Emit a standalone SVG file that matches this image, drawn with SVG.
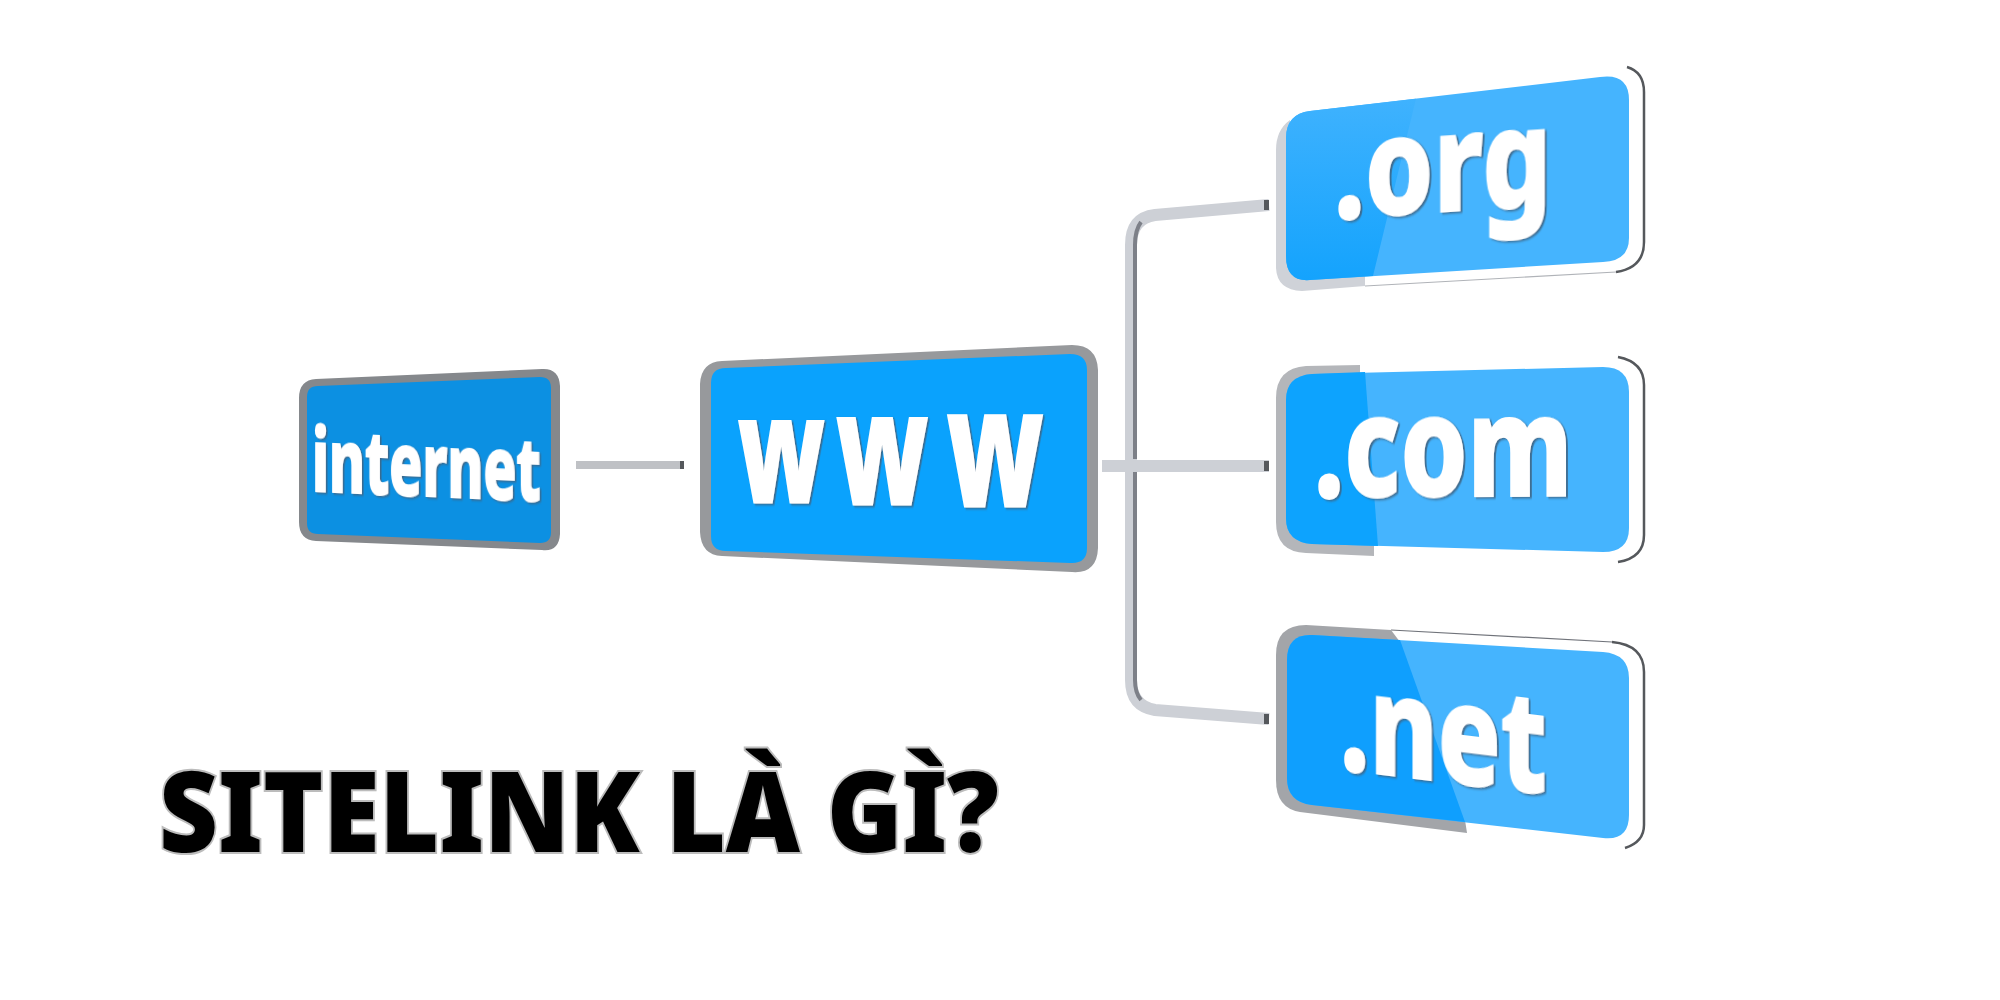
<svg xmlns="http://www.w3.org/2000/svg" width="2000" height="1000" viewBox="0 0 2000 1000">
<style>
.t{font-family:"Noto Sans","Open Sans",sans-serif;font-weight:800;fill:#fff;stroke:#fff;stroke-width:2;filter:url(#sh)}
.edge{fill:none;stroke:#55585c;stroke-width:2.5}
.thin{fill:none;stroke:#b0b3b8;stroke-width:1.2}
.bar{fill:none;stroke:#cdd0d6;stroke-width:12}
.stripe{fill:none;stroke:#7d8088;stroke-width:4}
.cap{fill:#55585c}
</style>
<defs>
<filter id="sh" x="-5%" y="-5%" width="112%" height="112%"><feDropShadow dx="2.5" dy="1.5" stdDeviation="0.8" flood-color="#3c6585" flood-opacity="0.9"/></filter>
<linearGradient id="orgdark" x1="0" y1="0" x2="0" y2="1"><stop offset="0" stop-color="#3fb2fe"/><stop offset="1" stop-color="#14a3fd"/></linearGradient>
</defs>
<rect width="2000" height="1000" fill="#fff"/>

<g id="connectors">
<path class="bar" style="stroke:#bfc1c5;stroke-width:8" d="M576 465H680"/>
<rect class="cap" x="680" y="461" width="4" height="8"/>
<path class="bar" d="M1269 205L1155 215Q1131 218 1131 245V680Q1131 706 1155 710L1269 719"/>
<path class="stripe" d="M1141 222Q1135 230 1135 245V459M1135 472V680Q1135 693 1141 700"/>
<path class="bar" d="M1102 466H1269"/>
<rect class="cap" x="1264" y="200" width="5" height="10"/>
<rect class="cap" x="1264" y="461" width="5" height="10"/>
<rect class="cap" x="1264" y="714" width="5" height="10"/>
</g>

<g id="node-internet">
<path fill="#85888c" d="M316 379L542 369Q559 368 560 386L560 534Q559 552 542 550L316 541Q299 540 299 522L299 398Q299 380 316 379Z"/>
<path fill="#0c90e2" d="M318 386L540 377Q551 377 551 388L551 532Q551 543 540 543L318 534Q307 534 307 523L307 397Q307 386 318 386Z"/>
<text class="t" font-size="88" transform="matrix(.62 .027 0 1 312 491)">internet</text>
</g>

<g id="node-www">
<path fill="#97999c" d="M722 361L1072 345Q1097 345 1098 370L1098 548Q1097 574 1072 572L722 556Q701 555 700 532L700 384Q701 362 722 361Z"/>
<path fill="#0aa2fd" d="M726 368L1070 354Q1087 354 1087 370L1087 548Q1087 564 1070 563L726 551Q711 551 711 536L711 383Q711 368 726 368Z"/>
<text class="t" style="stroke-width:3" transform="scale(.665 1)"><tspan font-size="147" x="1110" y="502">w</tspan><tspan font-size="156" x="1258" y="504">w</tspan><tspan font-size="164" x="1424" y="506">w</tspan></text>
</g>

<g id="node-org">
<path class="edge" d="M1627 67Q1644 72 1644 92L1644 242Q1644 268 1616 272"/>
<path class="thin" d="M1365 286L1616 272"/>
<path fill="#cfd2d8" d="M1290 120Q1276 130 1276 150L1276 268Q1277 290 1302 291L1365 286L1365 270L1300 270Z"/>
<path fill="#45b4fe" d="M1310 111L1600 77Q1629 73 1629 100L1629 238Q1629 261 1603 262L1310 280Q1286 282 1286 256L1286 138Q1286 114 1310 111Z"/>
<path fill="url(#orgdark)" d="M1416 98.700L1310 111Q1286 114 1286 138L1286 256Q1286 282 1310 280L1373 276Z"/>
<text class="t" font-size="136" transform="matrix(.8 -.055 0 1 1334 219)">.org</text>
</g>

<g id="node-com">
<path class="edge" d="M1618 357Q1644 362 1644 385L1644 535Q1644 558 1618 562"/>
<path fill="#b4b6ba" d="M1360 365L1306 366Q1276 368 1276 398L1276 522Q1276 552 1306 553L1374 556L1374 500L1360 400Z"/>
<path fill="#45b4fe" d="M1312 374L1603 367Q1629 367 1629 392L1629 528Q1629 552 1603 552L1312 544Q1286 542 1286 518L1286 400Q1286 376 1312 374Z"/>
<path fill="#0da3fe" d="M1365 372L1312 374Q1286 376 1286 400L1286 518Q1286 542 1312 544L1378 546Z"/>
<text class="t" font-size="140" transform="matrix(.76 -.004 0 1 1314 497)">.com</text>
</g>

<g id="node-net">
<path class="thin" style="stroke:#70737a" d="M1391 630L1612 642"/>
<path class="edge" d="M1612 642Q1644 645 1644 672L1644 825Q1644 842 1625 848"/>
<path fill="#a3a5a9" d="M1391 630L1306 625Q1276 625 1276 655L1276 780Q1276 808 1300 812L1467 833L1465 820L1400 642Z"/>
<path fill="#45b4fe" d="M1312 635L1603 652Q1629 654 1629 678L1629 815Q1629 841 1603 838L1312 805Q1287 802 1287 778L1287 660Q1287 634 1312 635Z"/>
<path fill="#0f9ffe" d="M1400 640L1312 635Q1287 634 1287 660L1287 778Q1287 802 1312 805L1465 822Z"/>
<text class="t" font-size="140" transform="matrix(.74 .09 0 1 1340 769)">.net</text>
</g>

<g id="title">
<text x="159" y="852" font-family="'Noto Sans','Open Sans',sans-serif" font-weight="900" font-size="112" fill="#000" stroke="#bcbcbc" stroke-width="4" paint-order="stroke" textLength="840" lengthAdjust="spacingAndGlyphs">SITELINK LÀ GÌ?</text>
</g>
</svg>
